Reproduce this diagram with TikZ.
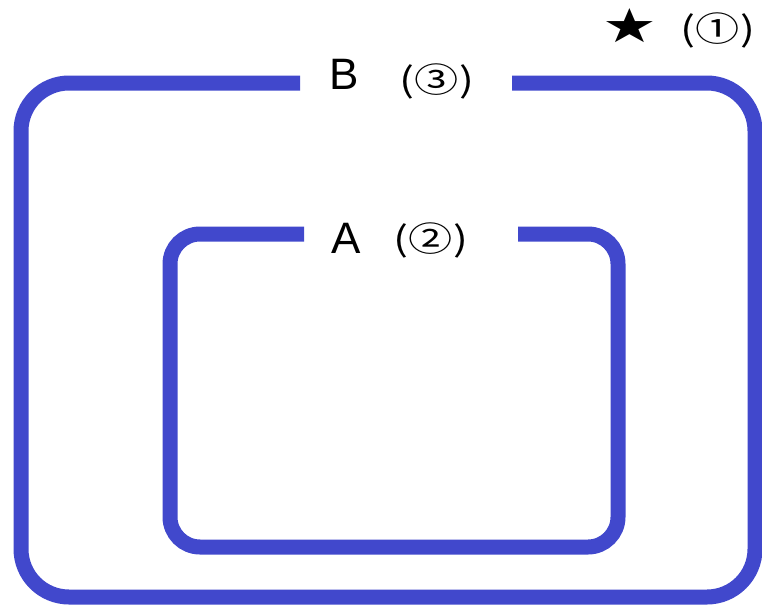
\documentclass[tikz,border=0pt]{standalone}
\usepackage{fontspec}
\setmainfont{Liberation Sans}
\newfontfamily\symfont{DejaVu Sans}
\newfontfamily\tagfont{Noto Sans CJK SC}
\definecolor{framecol}{RGB}{65,72,204}
\tikzset{
  frame/.style={draw=framecol, line width=15pt, rounded corners=#1, line cap=butt},
  letter/.style={inner sep=0pt, font=\fontsize{44}{44}\selectfont},
  tag/.style={inner sep=0pt, xscale=1.3, font=\tagfont\fontsize{34}{34}\selectfont},
}
\begin{document}
\begin{tikzpicture}[x=1pt, y=-1pt]
\useasboundingbox (0,0) rectangle (762,605);
% outer region B
\draw[frame=48] (300,83) -- (21,83) -- (21,597) -- (755,597) -- (755,83) -- (512,83);
% inner region A
\draw[frame=30] (304,234) -- (170,234) -- (170,547) -- (618,547) -- (618,234) -- (518,234);
% labels
\node[letter] (lB) at (344,74) {B};
\node[tag] (tB) at (437,81) {(③)};
\node[letter] (lA) at (346,238) {A};
\node[tag] (tA) at (431,240) {(②)};
\node[inner sep=0pt, xscale=1.3, font=\symfont\fontsize{47}{47}\selectfont] (star) at (630,26) {★};
\node[tag] (t1) at (718,30) {(①)};
\end{tikzpicture}
\end{document}
